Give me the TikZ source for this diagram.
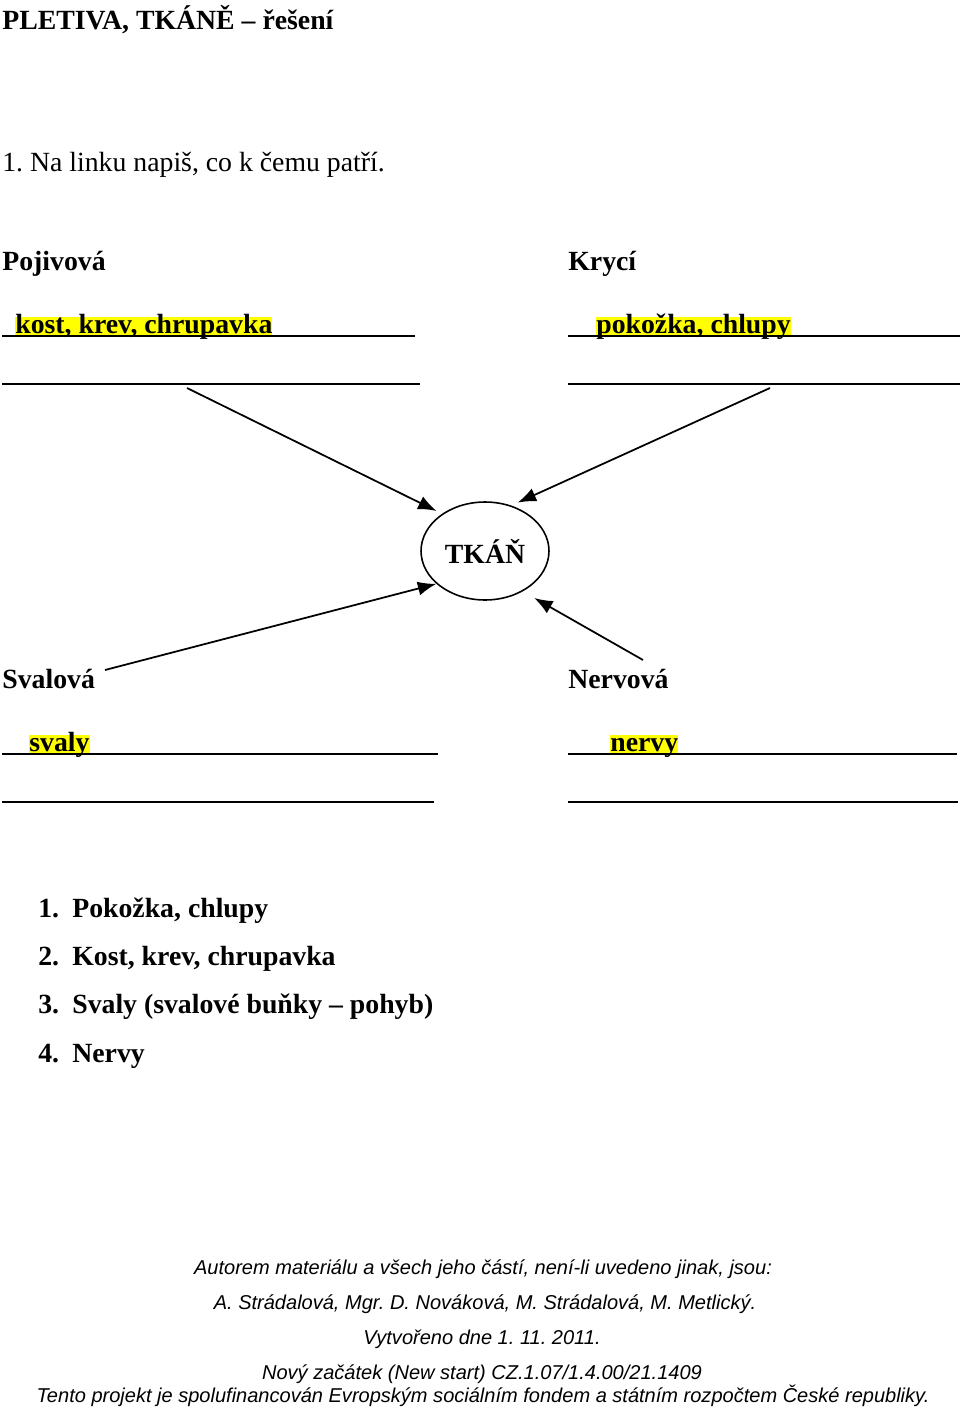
\documentclass[tikz,border=0pt]{standalone}
\usepackage{fontspec}
\setmainfont{Liberation Serif}
\newfontfamily\footfont{Liberation Sans}
\usetikzlibrary{shapes.geometric,arrows.meta}
\definecolor{hlyellow}{RGB}{255,255,0}
\frenchspacing
\tikzset{
    txt/.style={font=\fontsize{15.8}{19}\selectfont, inner sep=0, anchor=base west},
    btxt/.style={txt, font=\fontsize{15.8}{19}\selectfont\bfseries},
    hl/.style={btxt, fill=hlyellow, text height=0.93em, text depth=0.2em},
    blank/.style={line width=1.1pt},
    arr/.style={-{Latex[length=10.5pt,width=8pt]}, line width=1pt},
    foot/.style={font=\footfont\itshape\fontsize{11.4}{14}\selectfont, inner sep=0, anchor=base}
}
\begin{document}
\begin{tikzpicture}[x=0.02cm, y=-0.02cm]
        \useasboundingbox (0,0) rectangle (960,1409);

        \node[btxt] (title) at (2,30) {PLETIVA, TKÁNĚ -- řešení};
        \node[txt] (ukol) at (2,172) {1. Na linku napiš, co k čemu patří.};

        \node[btxt] (pojiv) at (2,270) {Pojivová};
        \node[btxt] (kryci) at (568,270) {Krycí};
        \node[hl] (hkost) at (15,333) {kost, krev, chrupavka};
        \node[hl] (hpokozka) at (596,333) {pokožka, chlupy};
        \draw[blank] (2,336) -- (415,336);
        \draw[blank] (2,384) -- (420,384);
        \draw[blank] (568,336) -- (960,336);
        \draw[blank] (568,384) -- (960,384);

        \node[draw, ellipse, line width=0.9pt, minimum width=2.56cm, minimum height=1.96cm, inner sep=0,
              font=\fontsize{15.8}{19}\selectfont\bfseries] (tkan) at (485,551) {TKÁŇ};

        \node[btxt] (sval) at (2,688) {Svalová};
        \node[btxt] (nerv) at (568,688) {Nervová};
        \node[hl] (hsvaly) at (29,751) {svaly};
        \node[hl] (hnervy) at (610,751) {nervy};
        \draw[blank] (2,754) -- (438,754);
        \draw[blank] (2,802) -- (434,802);
        \draw[blank] (568,754) -- (957,754);
        \draw[blank] (568,802) -- (958,802);

        \coordinate (zkost) at (187,388);
        \coordinate (zpokozka) at (770,388);
        \coordinate (zsvaly) at (105,670);
        \coordinate (znervy) at (643,660);
        \draw[arr, shorten >=3.5pt] (zkost) -- (tkan.139);
        \draw[arr, shorten >=4pt] (zpokozka) -- (tkan.60);
        \draw[arr] (zsvaly) -- (tkan.214);
        \draw[arr, shorten >=7.5pt] (znervy) -- (tkan.-47);

        \node[btxt] (l1) at (38,917) {\makebox[0.68cm][l]{1.}Pokožka, chlupy};
        \node[btxt] (l2) at (38,965) {\makebox[0.68cm][l]{2.}Kost, krev, chrupavka};
        \node[btxt] (l3) at (38,1013) {\makebox[0.68cm][l]{3.}Svaly (svalové buňky -- pohyb)};
        \node[btxt] (l4) at (38,1062) {\makebox[0.68cm][l]{4.}Nervy};

        \node[foot] (autor) at (483,1274) {Autorem materiálu a všech jeho částí, není-li uvedeno jinak, jsou:};
        \node[foot] (jmena) at (485,1309) {A. Strádalová, Mgr. D. Nováková, M. Strádalová, M. Metlický.};
        \node[foot] (datum) at (482,1344) {Vytvořeno dne 1. 11. 2011.};
        \node[foot] (projekt) at (482,1379) {Nový začátek (New start) CZ.1.07/1.4.00/21.1409};
        \node[foot] (fond) at (483,1402) {Tento projekt je spolufinancován Evropským sociálním fondem a státním rozpočtem České republiky.};
    \end{tikzpicture}
\end{document}
